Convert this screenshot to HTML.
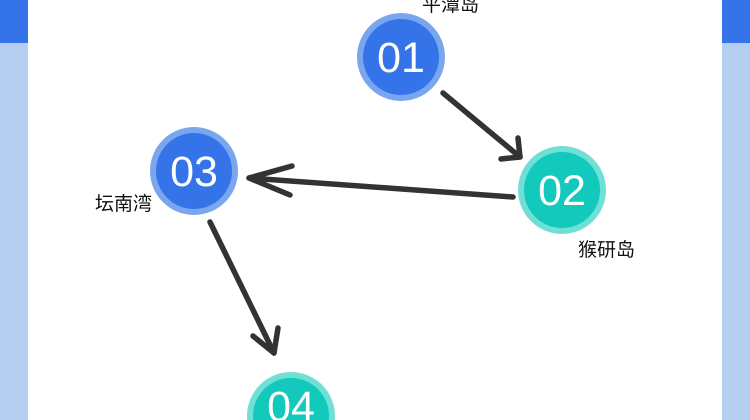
<!DOCTYPE html>
<html><head><meta charset="utf-8"><style>
html,body{margin:0;padding:0;width:750px;height:420px;overflow:hidden;background:#fff}
svg{display:block;overflow:hidden}
</style></head><body>
<svg width="750" height="420" viewBox="0 0 750 420" xmlns="http://www.w3.org/2000/svg">
<rect x="0" y="0" width="28" height="420" fill="#b4cff0"/>
<rect x="0" y="0" width="28" height="43" fill="#3474e8"/>
<rect x="722" y="0" width="28" height="420" fill="#b4cff0"/>
<rect x="722" y="0" width="28" height="43" fill="#3474e8"/>
<g stroke="#333" stroke-width="5.5" stroke-linecap="round" stroke-linejoin="round" fill="none">
<path d="M443 93 L520 157"/><path d="M518 138 L520 157 L501 159"/>
<path d="M513 197 L249 178"/><path d="M292 166 L249 178 L290 195"/>
<path d="M210 222 L274 353"/><path d="M278 328 L274 353 L253 336"/>
</g>
<g font-family="'Liberation Sans','DejaVu Sans',sans-serif" font-size="43" fill="#fff" text-anchor="middle">
<circle cx="401" cy="57" r="44" fill="#7aa6f0"/><circle cx="401" cy="57" r="38" fill="#3474e8"/>
<text x="401" y="72">01</text>
<circle cx="194" cy="171" r="44" fill="#7aa6f0"/><circle cx="194" cy="171" r="38" fill="#3474e8"/>
<text x="194" y="186">03</text>
<circle cx="562" cy="190" r="44" fill="#70dfd5"/><circle cx="562" cy="190" r="38" fill="#12c9bb"/>
<text x="562" y="205">02</text>
<circle cx="291" cy="416" r="44" fill="#70dfd5"/><circle cx="291" cy="416" r="38" fill="#12c9bb"/>
<text x="291" y="421">04</text>
</g>
<g font-family="'Liberation Sans','Noto Sans CJK SC',sans-serif" font-size="19" fill="#111">
<text x="422" y="11">平潭岛</text>
<text x="95" y="210">坛南湾</text>
<text x="578" y="256">猴研岛</text>
</g>
</svg>
</body></html>
